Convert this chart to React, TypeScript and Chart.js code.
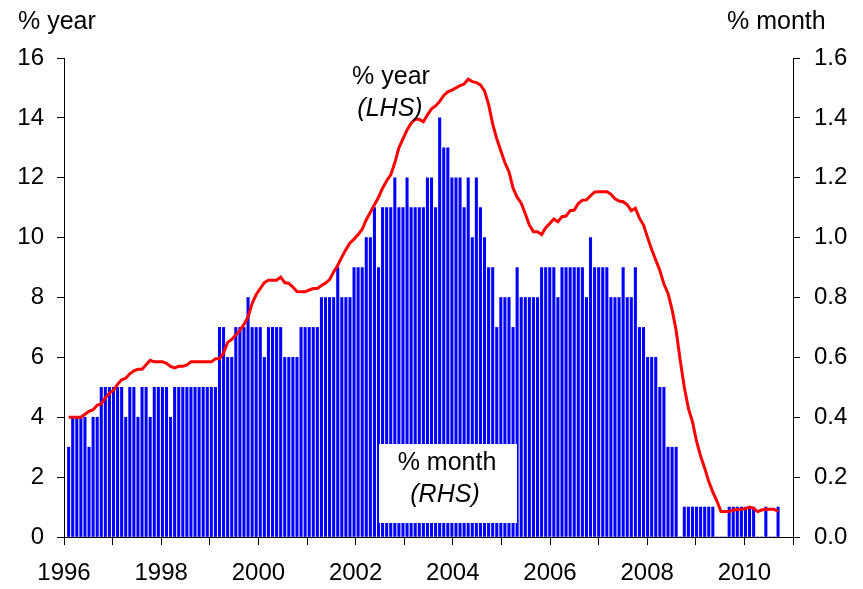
import React, { useEffect, useRef } from 'react';
import { Chart, registerables } from 'chart.js';

Chart.register(...registerables);

const FONT = '"Liberation Sans", Arial, sans-serif';

// Monthly data, Jan 1996 onwards (index = months since Jan 1996)
// % month (RHS, bars)
const monthlyChange: number[] = [
  0.3, 0.4, 0.4, 0.4, 0.4, 0.3, 0.4, 0.4, 0.5, 0.5, 0.5, 0.5,
  0.5, 0.5, 0.4, 0.5, 0.5, 0.4, 0.5, 0.5, 0.4, 0.5, 0.5, 0.5,
  0.5, 0.4, 0.5, 0.5, 0.5, 0.5, 0.5, 0.5, 0.5, 0.5, 0.5, 0.5,
  0.5, 0.7, 0.7, 0.6, 0.6, 0.7, 0.7, 0.7, 0.8, 0.7, 0.7, 0.7,
  0.6, 0.7, 0.7, 0.7, 0.7, 0.6, 0.6, 0.6, 0.6, 0.7, 0.7, 0.7,
  0.7, 0.7, 0.8, 0.8, 0.8, 0.8, 0.9, 0.8, 0.8, 0.8, 0.9, 0.9,
  0.9, 1.0, 1.0, 1.1, 0.9, 1.1, 1.1, 1.1, 1.2, 1.1, 1.1, 1.2,
  1.1, 1.1, 1.1, 1.1, 1.2, 1.2, 1.1, 1.4, 1.3, 1.3, 1.2, 1.2,
  1.2, 1.1, 1.2, 1.0, 1.2, 1.1, 1.0, 0.9, 0.9, 0.7, 0.8, 0.8,
  0.8, 0.7, 0.9, 0.8, 0.8, 0.8, 0.8, 0.8, 0.9, 0.9, 0.9, 0.9,
  0.8, 0.9, 0.9, 0.9, 0.9, 0.9, 0.9, 0.8, 1.0, 0.9, 0.9, 0.9,
  0.9, 0.8, 0.8, 0.8, 0.9, 0.8, 0.8, 0.9, 0.7, 0.7, 0.6, 0.6,
  0.6, 0.5, 0.5, 0.3, 0.3, 0.3, 0.0, 0.1, 0.1, 0.1, 0.1, 0.1,
  0.1, 0.1, 0.1, 0.0, 0.0, 0.0, 0.1, 0.1, 0.1, 0.1, 0.1, 0.1,
  0.1, 0.0, 0.0, 0.1, 0.0, 0.0, 0.1,
];

// % year (LHS, line)
const annualChange: number[] = [
  4.0, 4.0, 4.0, 4.0, 4.1, 4.2, 4.25, 4.4, 4.45, 4.65, 4.8, 4.9,
  5.1, 5.25, 5.3, 5.45, 5.55, 5.6, 5.6, 5.75, 5.9, 5.85, 5.85, 5.85,
  5.8, 5.7, 5.65, 5.7, 5.7, 5.75, 5.85, 5.85, 5.85, 5.85, 5.85, 5.85,
  5.95, 5.95, 6.15, 6.5, 6.6, 6.75, 6.9, 7.1, 7.35, 7.8, 8.1, 8.3,
  8.5, 8.58, 8.58, 8.58, 8.68, 8.5, 8.47, 8.35, 8.2, 8.19, 8.19, 8.25,
  8.3, 8.3, 8.4, 8.48, 8.6, 8.85, 9.08, 9.35, 9.6, 9.82, 9.95, 10.1,
  10.28, 10.6, 10.85, 11.1, 11.35, 11.65, 11.9, 12.1, 12.5, 13.0, 13.3, 13.6,
  13.82, 13.95, 13.95, 13.87, 14.1, 14.3, 14.4, 14.55, 14.75, 14.87, 14.93, 15.0,
  15.08, 15.13, 15.29, 15.21, 15.18, 15.1, 14.9, 14.45, 13.8, 13.3, 12.9, 12.5,
  12.2, 11.65, 11.35, 11.15, 10.8, 10.42, 10.2, 10.2, 10.1, 10.33, 10.47, 10.62,
  10.53, 10.7, 10.72, 10.9, 10.92, 11.14, 11.25, 11.26, 11.4, 11.52, 11.53, 11.53,
  11.53, 11.45, 11.3, 11.22, 11.2, 11.1, 10.9, 10.98, 10.65, 10.42, 10.0, 9.6,
  9.25, 8.9, 8.45, 8.14, 7.6, 6.9, 5.9, 5.0, 4.3, 3.85, 3.2, 2.7,
  2.3, 1.85, 1.5, 1.2, 0.85, 0.85, 0.85, 0.9, 0.92, 0.93, 0.95, 1.0,
  0.96, 0.85, 0.9, 0.93, 0.93, 0.93, 0.85,
];

const labelledYears: number[] = [1996, 1998, 2000, 2002, 2004, 2006, 2008, 2010];

const annotationPlugin = {
  id: 'annotations',
  afterDraw(chart: any) {
    const ctx = chart.ctx as CanvasRenderingContext2D;
    ctx.save();
    ctx.fillStyle = '#000';
    ctx.textBaseline = 'alphabetic';
    ctx.font = `25px ${FONT}`;
    ctx.textAlign = 'left';
    ctx.fillText('% year', 18, 29);
    ctx.fillText('% month', 727, 29);

    ctx.textAlign = 'center';
    ctx.fillText('% year', 391, 84);
    ctx.font = `italic 25px ${FONT}`;
    ctx.fillText('(LHS)', 390, 116);

    // label box for bars
    ctx.fillStyle = '#fff';
    ctx.fillRect(379, 444, 138, 79);
    ctx.fillStyle = '#000';
    ctx.font = `25px ${FONT}`;
    ctx.fillText('% month', 447, 470);
    ctx.font = `italic 25px ${FONT}`;
    ctx.fillText('(RHS)', 445, 502);
    ctx.restore();
  },
};

export default function App() {
  const canvasRef = useRef<HTMLCanvasElement | null>(null);

  useEffect(() => {
    if (!canvasRef.current) return;
    const tickFont = { family: FONT, size: 24 };
    const chart = new Chart(canvasRef.current, {
      type: 'bar',
      data: {
        datasets: [
          {
            type: 'line',
            label: '% year',
            data: annualChange.map((v, i) => ({ x: i, y: v })),
            borderColor: '#ff0000',
            borderWidth: 3,
            pointRadius: 0,
            tension: 0,
            fill: false,
            xAxisID: 'xd',
            yAxisID: 'y',
            order: 1,
          } as any,
          {
            type: 'bar',
            label: '% month',
            data: monthlyChange.map((v, i) => ({ x: i, y: v })),
            backgroundColor: '#0000ff',
            borderWidth: 0,
            barThickness: 2.4,
            xAxisID: 'xd',
            yAxisID: 'y1',
            order: 2,
          } as any,
        ],
      },
      options: {
        animation: false,
        responsive: false,
        maintainAspectRatio: false,
        layout: { padding: { top: 58, left: 0, right: 0, bottom: 0 } },
        plugins: {
          legend: { display: false },
          tooltip: { enabled: false },
        },
        scales: {
          x: {
            type: 'linear',
            position: 'bottom',
            min: 1996,
            max: 2011,
            offset: false,
            ticks: {
              stepSize: 1,
              autoSkip: false,
              maxRotation: 0,
              padding: 14,
              color: '#000',
              font: tickFont,
              callback: (v: any) => (labelledYears.includes(Number(v)) ? String(v) : ''),
            },
            grid: {
              display: true,
              offset: false,
              drawOnChartArea: false,
              drawTicks: true,
              tickLength: 8,
              color: '#000',
            },
            border: { display: true, color: '#000', width: 1 },
            afterFit: (s: any) => {
              s.height = 52;
            },
          } as any,
          xd: {
            type: 'linear',
            display: false,
            offset: false,
            min: -1.14,
            max: 177.66,
            grid: { offset: false },
          } as any,
          y: {
            type: 'linear',
            position: 'left',
            min: 0,
            max: 16,
            ticks: {
              stepSize: 2,
              padding: 13,
              color: '#000',
              font: tickFont,
              callback: (v: any) => String(Math.round(Number(v))),
            },
            grid: {
              drawOnChartArea: false,
              drawTicks: true,
              tickLength: 7,
              color: '#000',
            },
            border: { display: true, color: '#000', width: 1 },
            afterFit: (s: any) => {
              s.width = 64;
            },
          } as any,
          y1: {
            type: 'linear',
            position: 'right',
            min: 0,
            max: 1.6,
            ticks: {
              stepSize: 0.2,
              padding: 14,
              color: '#000',
              font: tickFont,
              callback: (v: any) => Number(v).toFixed(1),
            },
            grid: {
              drawOnChartArea: false,
              drawTicks: true,
              tickLength: 7,
              color: '#000',
            },
            border: { display: true, color: '#000', width: 1 },
            afterFit: (s: any) => {
              s.width = 70;
            },
          } as any,
        },
      },
      plugins: [annotationPlugin],
    });
    return () => chart.destroy();
  }, []);

  return (
    <div style={{ position: 'fixed', left: 0, top: 0, width: 863, height: 589, background: '#fff' }}>
      <canvas ref={canvasRef} width={863} height={589} style={{ width: 863, height: 589, display: 'block' }} />
    </div>
  );
}
